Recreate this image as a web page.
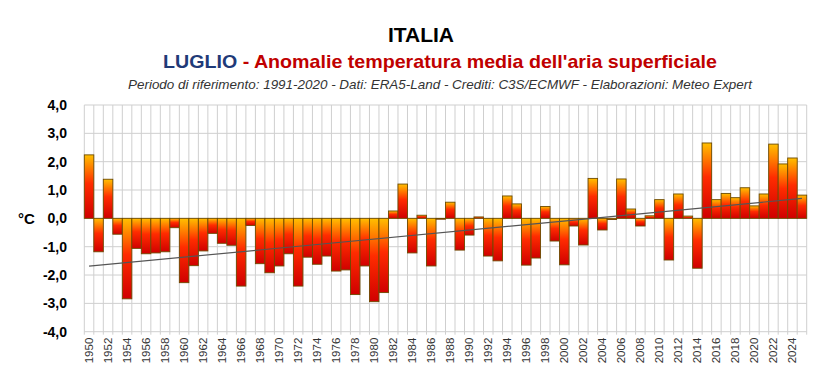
<!DOCTYPE html>
<html>
<head>
<meta charset="utf-8">
<script src="https://cdn.jsdelivr.net/npm/d3@7"></script>
<style>
  body { margin: 0; background: #fff; }
  svg { display: block; }
</style>
</head>
<body>
<script>
// July surface air temperature anomalies, Italy (ref 1991-2020)
const years = d3.range(1950, 2026)
const anomalies = [
  2.24, -1.18, 1.38, -0.56, -2.84, -1.06, -1.25, -1.22, -1.18, -0.33,
  -2.27, -1.67, -1.15, -0.53, -0.88, -0.95, -2.39, -0.25, -1.6, -1.92,
  -1.68, -1.25, -2.39, -1.37, -1.62, -1.33, -1.86, -1.82, -2.69, -1.68,
  -2.94, -2.62, 0.26, 1.21, -1.22, 0.11, -1.68, -0.03, 0.57, -1.12,
  -0.59, 0.05, -1.33, -1.5, 0.79, 0.51, -1.65, -1.4, 0.42, -0.8,
  -1.64, -0.27, -0.94, 1.41, -0.41, -0.04, 1.39, 0.33, -0.27, 0.09,
  0.66, -1.47, 0.86, 0.08, -1.76, 2.66, 0.66, 0.88, 0.73, 1.08,
  0.44, 0.86, 2.62, 1.92, 2.13, 0.82,
]
const yTicks = [4, 3, 2, 1, 0, -1, -2, -3, -4]
const yTickLabels = ['4,0', '3,0', '2,0', '1,0', '0,0', '-1,0', '-2,0', '-3,0', '-4,0']

const data = years.map((year, i) => ({ year, value: anomalies[i] }))

const width = 821
const height = 379
const margin = { top: 105, right: 14.3, bottom: 47.3, left: 84.3 }

const x = d3
  .scaleBand()
  .domain(years)
  .range([margin.left, width - margin.right])
  .padding(0)

const y = d3
  .scaleLinear()
  .domain([-4, 4])
  .range([height - margin.bottom, margin.top])

const svg = d3
  .select('body')
  .append('svg')
  .attr('width', width)
  .attr('height', height)

const grad = svg
  .append('defs')
  .append('linearGradient')
  .attr('id', 'barFill')
  .attr('x1', 0)
  .attr('y1', 0)
  .attr('x2', 0)
  .attr('y2', 1)
grad.append('stop').attr('offset', '0%').attr('stop-color', '#ffc000')
grad.append('stop').attr('offset', '45%').attr('stop-color', '#ff2c00')
grad.append('stop').attr('offset', '100%').attr('stop-color', '#d00000')

// titles
svg
  .append('text')
  .attr('x', 421)
  .attr('y', 42)
  .attr('text-anchor', 'middle')
  .attr('font-family', 'Liberation Sans, Arial, sans-serif')
  .attr('font-weight', 'bold')
  .attr('font-size', 21)
  .attr('fill', '#000')
  .text('ITALIA')

const sub = svg
  .append('text')
  .attr('x', 163)
  .attr('y', 68)
  .attr('textLength', 554)
  .attr('lengthAdjust', 'spacingAndGlyphs')
  .attr('font-family', 'Liberation Sans, Arial, sans-serif')
  .attr('font-weight', 'bold')
  .attr('font-size', 19)
sub.append('tspan').attr('fill', '#1f3a78').text('LUGLIO')
sub.append('tspan').attr('fill', '#c00000').text(' - Anomalie temperatura media dell\'aria superficiale')

svg
  .append('text')
  .attr('x', 128)
  .attr('y', 89)
  .attr('textLength', 624)
  .attr('lengthAdjust', 'spacingAndGlyphs')
  .attr('font-family', 'Liberation Sans, Arial, sans-serif')
  .attr('font-style', 'italic')
  .attr('font-size', 13)
  .attr('fill', '#333')
  .text('Periodo di riferimento: 1991-2020 - Dati: ERA5-Land - Crediti: C3S/ECMWF - Elaborazioni: Meteo Expert')

// grid
const grid = svg.append('g').attr('stroke', '#cfcfcf').attr('stroke-width', 1)
grid
  .selectAll('line.h')
  .data(yTicks)
  .join('line')
  .attr('class', 'h')
  .attr('x1', margin.left)
  .attr('x2', width - margin.right)
  .attr('y1', d => y(d))
  .attr('y2', d => y(d))
grid
  .selectAll('line.v')
  .data(years.concat([null]))
  .join('line')
  .attr('class', 'v')
  .attr('x1', d => (d === null ? x.range()[1] : x(d)))
  .attr('x2', d => (d === null ? x.range()[1] : x(d)))
  .attr('y1', y(4))
  .attr('y2', y(-4) + 3)

// bars
svg
  .append('g')
  .attr('fill', 'url(#barFill)')
  .attr('stroke', '#6e4a00')
  .attr('stroke-width', 0.9)
  .selectAll('rect')
  .data(data)
  .join('rect')
  .attr('x', d => x(d.year))
  .attr('y', d => y(Math.max(0, d.value)))
  .attr('width', x.bandwidth())
  .attr('height', d => Math.max(0.6, Math.abs(y(d.value) - y(0))))

// linear trend (least squares on the series)
const mx = d3.mean(years)
const my = d3.mean(anomalies)
const slope =
  d3.sum(data, d => (d.year - mx) * (d.value - my)) / d3.sum(years, t => (t - mx) * (t - mx))
const trend = t => my + slope * (t - mx)
const cx = t => x(t) + x.bandwidth() / 2
svg
  .append('line')
  .attr('x1', cx(years[0]))
  .attr('x2', cx(years[years.length - 1]))
  .attr('y1', y(trend(years[0])))
  .attr('y2', y(trend(years[years.length - 1])))
  .attr('stroke', '#555')
  .attr('stroke-width', 1.2)

// y axis labels
svg
  .append('g')
  .selectAll('text')
  .data(yTicks)
  .join('text')
  .attr('x', 67)
  .attr('y', d => y(d))
  .attr('dy', '0.35em')
  .attr('text-anchor', 'end')
  .attr('font-family', 'Liberation Sans, Arial, sans-serif')
  .attr('font-weight', 'bold')
  .attr('font-size', 14)
  .attr('fill', '#000')
  .text((d, i) => yTickLabels[i])

svg
  .append('text')
  .attr('x', 18)
  .attr('y', y(0))
  .attr('dy', '0.35em')
  .attr('font-family', 'Liberation Sans, Arial, sans-serif')
  .attr('font-weight', 'bold')
  .attr('font-size', 15)
  .attr('fill', '#000')
  .text('°C')

// x labels, every other year
svg
  .append('g')
  .selectAll('text')
  .data(years.filter(t => t % 2 === 0))
  .join('text')
  .attr('transform', d => `translate(${cx(d)},${y(-4) + 6}) rotate(-90)`)
  .attr('dy', '0.35em')
  .attr('text-anchor', 'end')
  .attr('font-family', 'Liberation Sans, Arial, sans-serif')
  .attr('font-size', 11.5)
  .attr('fill', '#333')
  .text(d => d)
</script>
</body>
</html>
